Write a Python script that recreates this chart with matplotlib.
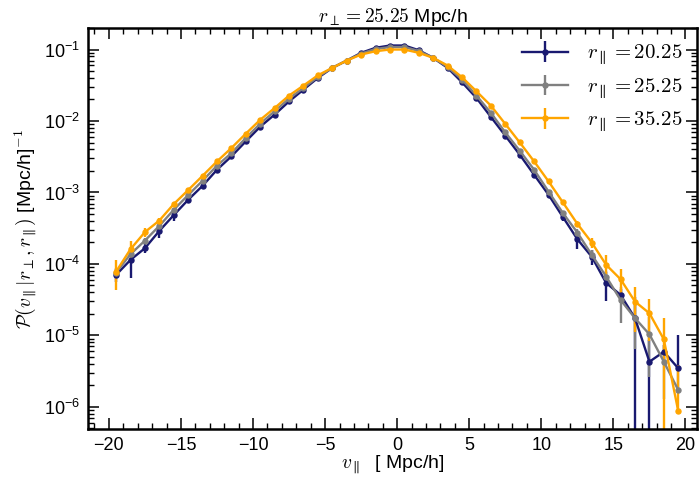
import numpy as np
import matplotlib
matplotlib.use('Agg')
from matplotlib import pyplot as plt
from matplotlib.font_manager import FontProperties
from matplotlib.ticker import MultipleLocator, LogLocator

# ===== Dados =====
v_par = np.arange(-19.5, 20.0, 1.0)

labels = [r'$r_\parallel = 20.25$', r'$r_\parallel = 25.25$', r'$r_\parallel = 35.25$']
colors = ['#191970', 'gray', 'orange']

p_20 = [7.03e-5, 1.14e-4, 1.66e-4, 2.90e-4, 4.82e-4, 7.90e-4, 1.24e-3, 2.08e-3, 3.20e-3, 5.19e-3,
        8.33e-3, 1.23e-2, 1.88e-2, 2.75e-2, 4.01e-2, 5.54e-2, 7.01e-2, 8.99e-2, 1.057e-1, 1.138e-1,
        1.138e-1, 9.78e-2, 7.65e-2, 5.54e-2, 3.48e-2, 2.10e-2, 1.14e-2, 6.23e-3, 3.38e-3, 1.77e-3,
        9.29e-4, 4.52e-4, 2.22e-4, 1.26e-4, 5.42e-5, 3.68e-5, 1.74e-5, 4.28e-6, 5.91e-6, 3.46e-6]
p_25 = [7.57e-5, 1.37e-4, 2.12e-4, 3.41e-4, 5.73e-4, 9.20e-4, 1.46e-3, 2.37e-3, 3.56e-3, 5.78e-3,
        9.18e-3, 1.37e-2, 2.06e-2, 2.90e-2, 4.14e-2, 5.54e-2, 7.01e-2, 8.79e-2, 1.016e-1, 1.084e-1,
        1.084e-1, 9.53e-2, 7.65e-2, 5.69e-2, 3.80e-2, 2.27e-2, 1.30e-2, 6.93e-3, 3.84e-3, 2.08e-3,
        1.03e-3, 5.14e-4, 2.75e-4, 1.34e-4, 6.65e-5, 3.13e-5, 1.74e-5, 1.035e-5, 4.28e-6, 1.72e-6]
p_35 = [7.81e-5, 1.61e-4, 2.79e-4, 4.05e-4, 6.88e-4, 1.08e-3, 1.71e-3, 2.72e-3, 4.19e-3, 6.65e-3,
        1.04e-2, 1.52e-2, 2.27e-2, 3.13e-2, 4.36e-2, 5.54e-2, 7.01e-2, 8.51e-2, 9.47e-2, 1.0e-1,
        1.0e-1, 8.99e-2, 7.65e-2, 5.97e-2, 4.09e-2, 2.60e-2, 1.64e-2, 9.09e-3, 5.02e-3, 2.72e-3,
        1.43e-3, 7.24e-4, 3.64e-4, 1.99e-4, 9.70e-5, 6.1e-5, 2.97e-5, 2.04e-5, 8.8e-6, 8.7e-7]

err_20 = [1.5e-5, 5e-5, 2.5e-5, 6e-5, 8e-5, 6e-5, 5e-5, 5e-5, 5e-5, 6e-5,
          7e-5, 8e-5, 1e-4, 1.2e-4, 1.4e-4, 1.6e-4, 1.8e-4, 2e-4, 2e-4, 2e-4,
          2e-4, 2e-4, 2e-4, 1.8e-4, 1.5e-4, 1.3e-4, 1.1e-4, 9e-5, 7e-5, 6e-5,
          5e-5, 5e-5, 6e-5, 3e-5, 2.4e-5, 8e-6, 1.74e-5, 4.28e-6, 1.5e-6, 6.7e-6]
err_25 = [1.2e-5, 1.5e-5, 2e-5, 3e-5, 4e-5, 4e-5, 4e-5, 4e-5, 4e-5, 5e-5,
          6e-5, 7e-5, 9e-5, 1.1e-4, 1.3e-4, 1.5e-4, 1.7e-4, 1.9e-4, 2e-4, 2e-4,
          2e-4, 2e-4, 1.9e-4, 1.7e-4, 1.4e-4, 1.2e-4, 1e-4, 8e-5, 6e-5, 5e-5,
          4e-5, 3e-5, 3e-5, 2.5e-5, 1.2e-5, 1.65e-5, 1.1e-5, 7.7e-6, 3e-6, 2.1e-6]
err_35 = [3.5e-5, 5e-5, 4e-5, 3e-5, 3e-5, 3e-5, 4e-5, 4e-5, 4e-5, 5e-5,
          6e-5, 7e-5, 9e-5, 1.1e-4, 1.3e-4, 1.5e-4, 1.7e-4, 1.9e-4, 2e-4, 2e-4,
          2e-4, 2e-4, 1.9e-4, 1.7e-4, 1.4e-4, 1.2e-4, 1e-4, 8e-5, 6e-5, 5e-5,
          4e-5, 3e-5, 3e-5, 3e-5, 3.7e-5, 2.3e-5, 1.85e-5, 1.2e-5, 8.8e-6, 3e-6]

# ===== Estilo =====
plt.rcParams['font.family'] = ['Liberation Sans', 'DejaVu Sans']
plt.rcParams['mathtext.fontset'] = 'custom'
plt.rcParams['mathtext.rm'] = 'Liberation Sans'
plt.rcParams['mathtext.it'] = 'Liberation Sans:italic'

fig = plt.figure(figsize=(7, 4.88), dpi=100)
ax = fig.add_axes([0.1257, 0.1209, 0.87, 0.8217])

for p, e, c, lab in zip([p_20, p_25, p_35], [err_20, err_25, err_35], colors, labels):
    p = np.array(p)
    e = np.array(e)
    lo = e.copy()
    lo[-1] = 0.0   # ultimo ponto so tem a barra de cima
    ax.errorbar(v_par, p, yerr=[lo, e], color=c, marker='o', markersize=3.6,
                linewidth=1.7, elinewidth=1.7, capsize=0, label=lab)

ax.set_yscale('log')
ax.set_xlim(-21.45, 20.8)
ax.set_ylim(4.9e-7, 0.2)

ax.xaxis.set_major_locator(MultipleLocator(5))
ax.xaxis.set_minor_locator(MultipleLocator(1))
ax.yaxis.set_major_locator(LogLocator(base=10, numticks=20))
ax.yaxis.set_minor_locator(LogLocator(base=10, subs=np.arange(2, 10), numticks=20))

ax.tick_params(which='both', direction='in', top=True, right=True, labelsize=13)
ax.tick_params(which='major', length=8, width=1.1, pad=6)
ax.tick_params(which='minor', length=4, width=1.0)
for s in ax.spines.values():
    s.set_linewidth(1.8)

ax.set_xlabel(r'$v_\parallel$  [ Mpc/h]', fontsize=14, math_fontfamily='cm', labelpad=0)
ax.set_ylabel(r'$\mathcal{P}(v_\parallel|r_\perp,r_\parallel)$ [Mpc/h]$^{-1}$', fontsize=14,
              math_fontfamily='cm', labelpad=3)
ax.set_title(r'$r_\perp = 25.25$ Mpc/h', fontsize=14, math_fontfamily='cm', pad=4)

leg_font = FontProperties(family='Liberation Sans', size=15, math_fontfamily='cm')
ax.legend(loc='upper right', frameon=False, prop=leg_font, handlelength=2.2,
          borderaxespad=0.4, labelspacing=0.42, handletextpad=0.9, borderpad=0.3)

plt.savefig('out.png', dpi=100)
